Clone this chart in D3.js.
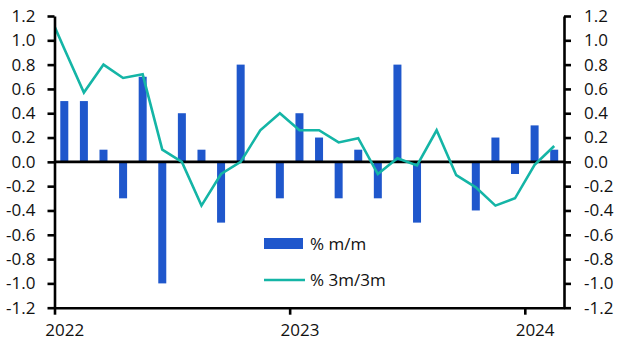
<!DOCTYPE html>
<html>
<head>
<meta charset="utf-8">
<script src="https://cdn.jsdelivr.net/npm/d3@7/dist/d3.min.js"></script>
<style>
  html, body { margin: 0; padding: 0; background: #fff; }
  svg { display: block; }
  text { font-family: "Open Sans", "Noto Sans", sans-serif; fill: #111; }
</style>
</head>
<body>
<svg id="chart" width="627" height="353"></svg>
<script>
// ---- data ----
const months = ["2022-01","2022-02","2022-03","2022-04","2022-05","2022-06","2022-07","2022-08","2022-09","2022-10","2022-11","2022-12",
                "2023-01","2023-02","2023-03","2023-04","2023-05","2023-06","2023-07","2023-08","2023-09","2023-10","2023-11","2023-12",
                "2024-01","2024-02"];
const momValues = [0.5, 0.5, 0.1, -0.3, 0.7, -1.0, 0.4, 0.1, -0.5, 0.8, 0.0, -0.3,
                   0.4, 0.2, -0.3, 0.1, -0.3, 0.8, -0.5, 0.0, 0.0, -0.4, 0.2, -0.1,
                   0.3, 0.1];
// 3m/3m series starts one month earlier (Dec 2021, clipped by the axis)
const lineMonths = ["2021-12"].concat(months);
const threeMValues = [1.30, 0.93, 0.57, 0.80, 0.69, 0.72, 0.10, 0.00, -0.36, -0.10, 0.00, 0.26, 0.40,
                      0.26, 0.26, 0.16, 0.195, -0.10, 0.03, -0.03, 0.26, -0.11, -0.21, -0.36, -0.30,
                      -0.025, 0.13];
const yTicks = [-1.2, -1.0, -0.8, -0.6, -0.4, -0.2, 0.0, 0.2, 0.4, 0.6, 0.8, 1.0, 1.2];
const xTickMonths = ["2022-01", "2023-01", "2024-01"];
const xTickLabels = ["2022", "2023", "2024"];
const seriesNames = ["% m/m", "% 3m/3m"];

// ---- layout ----
const mLeft = 54.5, mRight = 564, mTop = 16, mBottom = 307.7;
const barColor = "#1F57CC", lineColor = "#14B5A6";
const fontSize = 17;

const monthIndex = s => { const [yy, mm] = s.split("-").map(Number); return (yy - 2022) * 12 + (mm - 1); };

const svg = d3.select("#chart");
const x = d3.scaleLinear().domain([0, 26]).range([mLeft, mRight]);
const y = d3.scaleLinear().domain([-1.2, 1.2]).range([mBottom, mTop]);
const fmt = d => (Math.abs(d) < 1e-9 ? 0 : d).toFixed(1);

svg.append("defs").append("clipPath").attr("id", "plot")
  .append("rect").attr("x", mLeft).attr("y", 0).attr("width", mRight - mLeft).attr("height", 353);

// bars
const barW = 8;
svg.append("g").selectAll("rect").data(momValues).join("rect")
  .attr("x", (d, i) => x(monthIndex(months[i]) + 0.5) - barW / 2)
  .attr("width", barW)
  .attr("y", d => y(Math.max(0, d)))
  .attr("height", d => Math.abs(y(d) - y(0)))
  .attr("fill", barColor);

// zero line
svg.append("line").attr("x1", mLeft).attr("x2", mRight).attr("y1", y(0)).attr("y2", y(0))
  .attr("stroke", "#000").attr("stroke-width", 2.6);

// line
const line = d3.line().x((d, i) => x(monthIndex(lineMonths[i]) + 0.5)).y(d => y(d));
svg.append("path").datum(threeMValues)
  .attr("clip-path", "url(#plot)")
  .attr("d", line).attr("fill", "none")
  .attr("stroke", lineColor).attr("stroke-width", 2.6).attr("stroke-linejoin", "miter");

// axes
function styleAxis(g) {
  g.selectAll(".domain").attr("stroke", "#000").attr("stroke-width", 2.6);
  g.selectAll(".tick line").attr("stroke", "#000").attr("stroke-width", 2.6);
  g.selectAll(".tick text").attr("font-size", fontSize).attr("fill", "#111")
    .style("font-family", "'Open Sans', 'Noto Sans', sans-serif");
}
const yl = svg.append("g").attr("transform", `translate(${mLeft},0)`)
  .call(d3.axisLeft(y).tickValues(yTicks).tickFormat(fmt).tickSize(7).tickSizeOuter(0).tickPadding(12));
styleAxis(yl);
const yr = svg.append("g").attr("transform", `translate(${mRight},0)`)
  .call(d3.axisRight(y).tickValues(yTicks).tickFormat(fmt).tickSize(7).tickSizeOuter(0).tickPadding(13));
styleAxis(yr);

const xa = svg.append("g").attr("transform", `translate(0,${mBottom})`)
  .call(d3.axisBottom(x).tickValues(xTickMonths.map(monthIndex))
    .tickFormat((d, i) => xTickLabels[i]).tickSize(7).tickSizeOuter(0).tickPadding(9));
styleAxis(xa);
xa.selectAll(".tick text").attr("x", x(0.5) - x(0));

// legend
const lg = svg.append("g");
lg.append("rect").attr("x", 264).attr("y", 238).attr("width", 39).attr("height", 11).attr("fill", barColor);
lg.append("text").attr("x", 310).attr("y", 244).attr("dy", "0.35em").attr("font-size", fontSize).text(seriesNames[0]);
lg.append("line").attr("x1", 264).attr("x2", 305).attr("y1", 280).attr("y2", 280)
  .attr("stroke", lineColor).attr("stroke-width", 2.6);
lg.append("text").attr("x", 310).attr("y", 280).attr("dy", "0.35em").attr("font-size", fontSize).text(seriesNames[1]);
</script>
</body>
</html>
